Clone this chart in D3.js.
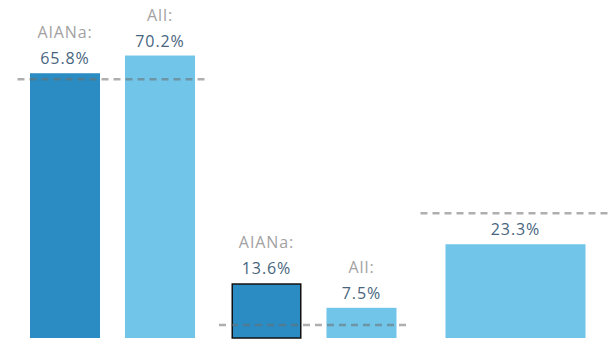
<!DOCTYPE html>
<html>
<head>
<meta charset="utf-8">
<script src="https://cdn.jsdelivr.net/npm/d3@7/dist/d3.min.js"></script>
<style>
  html, body { margin: 0; padding: 0; background: #fff; }
  svg { display: block; }
  text { font-family: "Open Sans", "DejaVu Sans", sans-serif; letter-spacing: 0.9px; }
</style>
</head>
<body>
<svg id="chart" width="610" height="340"></svg>
<script>
// Groups of bars, each with a dashed reference line
const groups = ["g1", "g2", "g3"];
const groupSeries = [["AIANa", "All"], ["AIANa", "All"], ["All"]];
const groupValues = [[65.8, 70.2], [13.6, 7.5], [23.3]];
const groupNames = [["AIANa:", "All:"], ["AIANa:", "All:"], [null]];
const referenceValues = [64.3, 3.2, 31.0];
const highlighted = [[false, false], [true, false], [false]];

const W = 610, H = 340;
const baseline = 338;
const svg = d3.select("#chart");

const y = d3.scaleLinear().domain([0, 84]).range([baseline, 0]);
const xGroup = d3.scaleBand().domain(groups).range([17.5, 610.5])
  .paddingInner(0.057).paddingOuter(0);

const color = d3.scaleOrdinal().domain(["AIANa", "All"]).range(["#2a8cc2", "#70c5e8"]);

groups.forEach((g, gi) => {
  const gx = xGroup(g);
  const xInner = d3.scaleBand().domain(groupSeries[gi])
    .range([0, xGroup.bandwidth()])
    .paddingInner(0.263).paddingOuter(0.1316);

  const layer = svg.append("g").attr("transform", `translate(${gx},0)`);

  groupSeries[gi].forEach((s, si) => {
    const v = groupValues[gi][si];
    const bx = xInner(s), bw = xInner.bandwidth();
    const top = y(v);
    const hl = highlighted[gi][si];
    layer.append("rect")
      .attr("x", hl ? bx + 0.75 : bx)
      .attr("y", hl ? top + 0.75 : top)
      .attr("width", hl ? bw - 1.5 : bw)
      .attr("height", hl ? baseline - top - 0.75 : baseline - top)
      .attr("fill", color(s))
      .attr("stroke", hl ? "#111" : "none")
      .attr("stroke-width", hl ? 1.5 : 0);

    const cx = bx + bw / 2;
    layer.append("text")
      .attr("x", cx).attr("y", top - 9)
      .attr("text-anchor", "middle")
      .attr("font-size", 16)
      .attr("fill", "#47657e")
      .text(v.toFixed(1) + "%");
    const name = groupNames[gi][si];
    if (name) {
      layer.append("text")
        .attr("x", cx).attr("y", top - 35)
        .attr("text-anchor", "middle")
        .attr("font-size", 16)
        .attr("fill", "#a2a2a2")
        .text(name);
    }
  });

  // dashed reference line drawn over the bars
  layer.append("line")
    .attr("x1", 0).attr("x2", xGroup.bandwidth())
    .attr("y1", y(referenceValues[gi])).attr("y2", y(referenceValues[gi]))
    .attr("stroke", "rgba(110,110,110,0.55)")
    .attr("stroke-width", 2.5)
    .attr("stroke-dasharray", "7,5");
});
</script>
</body>
</html>
